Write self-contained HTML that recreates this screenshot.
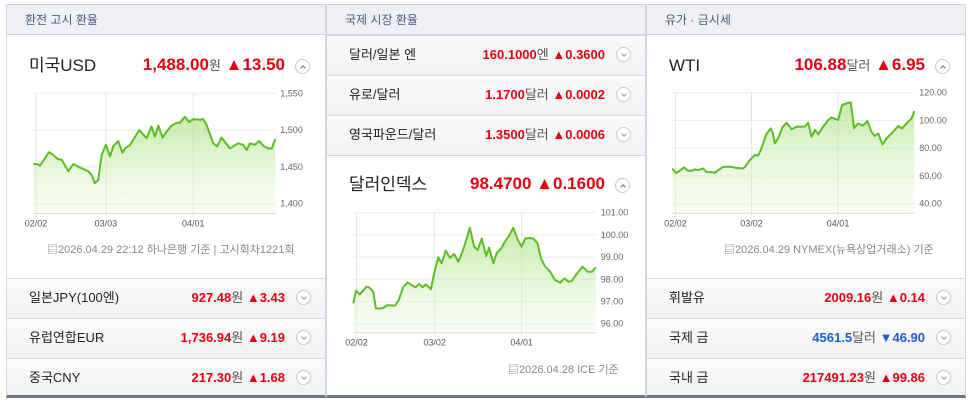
<!DOCTYPE html>
<html><head><meta charset="utf-8"><style>
*{margin:0;padding:0;box-sizing:border-box}
body{width:972px;height:405px;background:#fff;font-family:"Liberation Sans","Noto Sans CJK KR",sans-serif;position:relative;overflow:hidden}
.col{position:absolute;top:4px;height:394px;width:320px;border-left:1px solid #d3d6e0;border-right:1px solid #d3d6e0;border-bottom:3px solid #6e7385;background:#fff}
.hd{position:absolute;left:0;top:0;right:0;height:31px;background:#eef0f6;border-top:1px solid #cfd3de;border-bottom:1px solid #cfd3de;font-size:12px;color:#4f5a78;line-height:30px;padding-left:18px}
.abs{position:absolute;white-space:nowrap}
.title{font-size:17px;color:#222;line-height:20px}
.big{font-size:17px;font-weight:bold;color:#e60012;line-height:20px}
.unit{font-size:13px;color:#555;font-weight:normal}
.btn{position:absolute;width:15px;height:15px;border:1px solid #c8c8c8;border-radius:50%;background:#fff}
.btn::after{content:"";position:absolute;left:5px;width:3px;height:3px;border-right:1px solid #999;border-bottom:1px solid #999;transform:rotate(45deg);top:4px}
.btn.up::after{transform:rotate(-135deg);top:6px;border-color:#5a6ab8}
.row{position:absolute;left:0;right:0;height:40px;border-top:1px solid #d6d8e0;background:linear-gradient(#fbfbfb,#f1f1f3)}
.row .nm{position:absolute;left:22px;top:0;line-height:38px;font-size:13px;color:#222}
.row .vl{position:absolute;right:40px;top:0;line-height:38px;font-size:13px;font-weight:bold;color:#e60012;white-space:nowrap}
.row .vl.blue{color:#1a5fd6}
.row .btn{right:14px;top:11px}
.foot{font-size:11px;color:#888}
svg{position:absolute;left:0;top:0}
</style></head><body>

<div class="col" style="left:6px">
 <div class="hd">환전 고시 환율</div>
 <div class="abs title" style="left:22px;top:52px">미국USD</div>
 <div class="abs big" style="right:40px;top:51px">1,488.00<span class="unit">원</span> ▲13.50</div>
 <div class="btn up" style="right:15px;top:55px"></div>
 <div class="abs foot" style="left:40px;top:237px">▤2026.04.29 22:12 하나은행 기준 | 고시회차1221회</div>
 <div class="row" style="top:274px"><span class="nm">일본JPY(100엔)</span><span class="vl">927.48<span class="unit">원</span> ▲3.43</span><div class="btn"></div></div>
 <div class="row" style="top:314px"><span class="nm">유럽연합EUR</span><span class="vl">1,736.94<span class="unit">원</span> ▲9.19</span><div class="btn"></div></div>
 <div class="row" style="top:354px;height:37px"><span class="nm">중국CNY</span><span class="vl">217.30<span class="unit">원</span> ▲1.68</span><div class="btn"></div></div>
</div>

<div class="col" style="left:326px">
 <div class="hd">국제 시장 환율</div>
 <div class="row" style="top:31px"><span class="nm">달러/일본 엔</span><span class="vl">160.1000<span class="unit">엔</span> ▲0.3600</span><div class="btn"></div></div>
 <div class="row" style="top:71px"><span class="nm">유로/달러</span><span class="vl">1.1700<span class="unit">달러</span> ▲0.0002</span><div class="btn"></div></div>
 <div class="row" style="top:111px"><span class="nm">영국파운드/달러</span><span class="vl">1.3500<span class="unit">달러</span> ▲0.0006</span><div class="btn"></div></div>
 <div class="abs" style="left:0;right:0;top:151px;border-top:1px solid #d6d8e0"></div>
 <div class="abs title" style="left:22px;top:171px">달러인덱스</div>
 <div class="abs big" style="right:40px;top:170px">98.4700 ▲0.1600</div>
 <div class="btn up" style="right:15px;top:174px"></div>
 <div class="abs foot" style="left:181px;top:357px">▤2026.04.28 ICE 기준</div>
</div>

<div class="col" style="left:646px">
 <div class="hd">유가 · 금시세</div>
 <div class="abs title" style="left:22px;top:52px">WTI</div>
 <div class="abs big" style="right:40px;top:51px">106.88<span class="unit">달러</span> ▲6.95</div>
 <div class="btn up" style="right:15px;top:55px"></div>
 <div class="abs foot" style="left:77px;top:237px">▤2026.04.29 NYMEX(뉴욕상업거래소) 기준</div>
 <div class="row" style="top:274px"><span class="nm">휘발유</span><span class="vl">2009.16<span class="unit">원</span> ▲0.14</span><div class="btn"></div></div>
 <div class="row" style="top:314px"><span class="nm">국제 금</span><span class="vl blue">4561.5<span class="unit">달러</span> ▼46.90</span><div class="btn"></div></div>
 <div class="row" style="top:354px;height:37px"><span class="nm">국내 금</span><span class="vl">217491.23<span class="unit">원</span> ▲99.86</span><div class="btn"></div></div>
</div>

<svg id="charts" width="972" height="405">
 <defs><linearGradient id="gf" x1="0" y1="0" x2="0" y2="1"><stop offset="0" stop-color="#9fdc6e" stop-opacity="0.6"/><stop offset="1" stop-color="#eef9e4" stop-opacity="0.3"/></linearGradient></defs>
</svg>

<script>
// USD/KRW
const usdDays=[-1.1,0.3,1.7,5.4,7.2,9.3,10.6,13.4,15.5,18.2,21.7,23.1,24.4,25.8,27.2,29,30.7,32,34.1,35.9,36.9,39,42.8,45.9,47.9,49.3,50.7,52.5,54.1,56.2,58.3,59.7,61.7,63.5,65.2,68,69.3,70.7,73.5,75.1,76.9,80.4,83.8,85.9,87.3,88.7,90.7,92.5,94.2,96.3,97.7,99.2];
const usdValues=[1454,1454,1452,1470,1466,1460,1460,1444,1454,1449,1444,1439,1428,1432,1466,1480,1464,1478,1485,1469,1475,1480,1500,1489,1505,1491,1506,1490,1498,1506,1510,1510,1518,1511,1515,1514,1515,1507,1482,1478,1490,1475,1482,1480,1473,1482,1480,1485,1479,1475,1475,1488];
const usdTickDays=[0,29,65.2];
const usdTickLabels=["02/02","03/03","04/01"];
const usdYTicks=[1550,1500,1450,1400];
const usdYLabels=["1,550","1,500","1,450","1,400"];
// Dollar index
const dxyDays=[-1.2,-0.2,1.2,3.7,4.6,6.2,7.2,8.7,9.9,11.5,14.3,15.7,17.3,19,20.4,21.9,23.3,24.5,25.8,27.6,29.1,30.4,31.6,33.1,34.7,36.3,37.8,39.3,40.5,42.1,43.7,45,46.5,48.1,49.2,50.8,52,53.7,55.1,56.8,58.2,59.9,61.3,62.6,64.4,65.7,67.2,68.5,70,71.9,73.7,75.6,77.2,78.7,79.9,81.4,83.9,85.9,87.4,88.8];
const dxyValues=[96.92,97.49,97.32,97.67,97.64,97.44,96.69,96.68,96.71,96.84,96.81,97.07,97.64,97.86,97.74,97.64,97.79,97.64,97.77,97.55,98.42,98.99,98.72,99.29,98.97,99.14,98.79,99.24,99.69,100.32,99.47,99.32,99.84,99.05,99.42,98.72,99.17,99.39,99.69,99.99,100.32,99.77,99.47,99.84,99.86,99.83,99.62,98.94,98.57,98.34,97.97,97.85,98.04,97.89,97.92,98.19,98.57,98.34,98.34,98.54];
const dxyTickDays=[0,29,61.3];
const dxyTickLabels=["02/02","03/02","04/01"];
const dxyYTicks=[101,100,99,98,97,96];
const dxyYLabels=["101.00","100.00","99.00","98.00","97.00","96.00"];
// WTI
const wtiDays=[-1.2,0,1,3.2,4.4,5.9,7.1,8.4,10.2,11.4,13.3,14.5,15.7,17.6,20.6,21.9,24.9,25.6,27.4,29.2,30.5,31.4,32.3,33.5,35.1,35.7,36.6,37.8,39.4,40.9,42.8,44.6,46.4,47.7,48.9,50.1,51.4,52.6,54.4,56.3,57.5,59.9,61.4,63,64.6,65.8,67.3,69.1,70.7,72.2,73.4,74.7,76.3,77.8,79.6,82.1,83.5,85.7,87,88];
const wtiValues=[65.4,62.3,63.0,66.2,63.8,63.8,64.7,64.2,65.4,62.8,62.8,62.3,64.2,66.6,66.6,65.9,65.4,66.6,71.4,75.0,74.8,78.7,83.5,90.2,94.3,91.9,83.5,87.1,95.0,98.4,93.6,95.5,95.5,95.7,98.4,88.3,93.1,90.0,95.5,100.3,102.2,100.3,111.1,112.3,113.0,94.5,97.9,96.2,99.6,91.9,88.8,90.7,82.7,87.1,90.7,96.0,94.3,99.1,101.5,106.8];
const wtiTickDays=[0,28,59.9];
const wtiTickLabels=["02/02","03/02","04/01"];
const wtiYTicks=[120,100,80,60,40];
const wtiYLabels=["120.00","100.00","80.00","60.00","40.00"];

const svg=document.getElementById('charts');
const NS='http://www.w3.org/2000/svg';
function mk(tag,attrs){const e=document.createElementNS(NS,tag);for(const k in attrs)e.setAttribute(k,attrs[k]);svg.appendChild(e);return e;}
function chart(name,cfg,days,vals,tDays,tLabels,yT,yL){
  const x=d=>cfg.x0+(d-cfg.d0)/(cfg.d1-cfg.d0)*(cfg.x1-cfg.x0);
  const y=v=>cfg.y0+(cfg.v0-v)/(cfg.v0-cfg.v1)*(cfg.y1-cfg.y0);
  yT.forEach((t,i)=>{
    const g=mk('line',{x1:cfg.x0,x2:cfg.x1,y1:y(t),y2:y(t),stroke:'#ececec','stroke-width':1});
    
    
    const tx=mk('text',{x:cfg.x1+5,y:y(t)+3,'font-size':9,fill:'#666','font-family':'Liberation Sans, sans-serif'});
    tx.textContent=yL[i];
    
    
  });
  tDays.forEach((d,i)=>{
    const g=mk('line',{x1:x(d),x2:x(d),y1:cfg.y0,y2:cfg.axis+3,stroke:'#e4e4e4','stroke-width':1});
    
    
    const tx=mk('text',{x:x(d),y:cfg.axis+13,'font-size':9,fill:'#555','text-anchor':'middle','font-family':'Liberation Sans, sans-serif'});
    tx.textContent=tLabels[i];
    
    
  });
  let p='';days.forEach((d,i)=>{p+=(i?'L':'M')+x(d).toFixed(1)+','+y(vals[i]).toFixed(1);});
  const area=mk('path',{d:p+'L'+x(days[days.length-1]).toFixed(1)+','+cfg.axis+'L'+x(days[0]).toFixed(1)+','+cfg.axis+'Z',fill:'url(#gf)'});
  
  
  const ln=mk('path',{d:p,fill:'none',stroke:'#5bbf22','stroke-width':2,'stroke-linejoin':'round'});
  
  
  const ax=mk('line',{x1:cfg.x0,x2:cfg.x1,y1:cfg.axis,y2:cfg.axis,stroke:'#d8d8d8','stroke-width':1});
  
  
}
chart('usd-chart',{x0:33.3,x1:275.3,d0:-1.1,d1:99.2,y0:93.3,y1:203.7,v0:1550,v1:1400,axis:213.5},usdDays,usdValues,usdTickDays,usdTickLabels,usdYTicks,usdYLabels);
chart('dxy-chart',{x0:353.3,x1:595.7,d0:-1.2,d1:88.8,y0:212.7,y1:323.7,v0:101,v1:96,axis:332.7},dxyDays,dxyValues,dxyTickDays,dxyTickLabels,dxyYTicks,dxyYLabels);
chart('wti-chart',{x0:672.3,x1:914.3,d0:-1.2,d1:88,y0:92.7,y1:203.7,v0:120,v1:40,axis:213.3},wtiDays,wtiValues,wtiTickDays,wtiTickLabels,wtiYTicks,wtiYLabels);
</script>
</body></html>
